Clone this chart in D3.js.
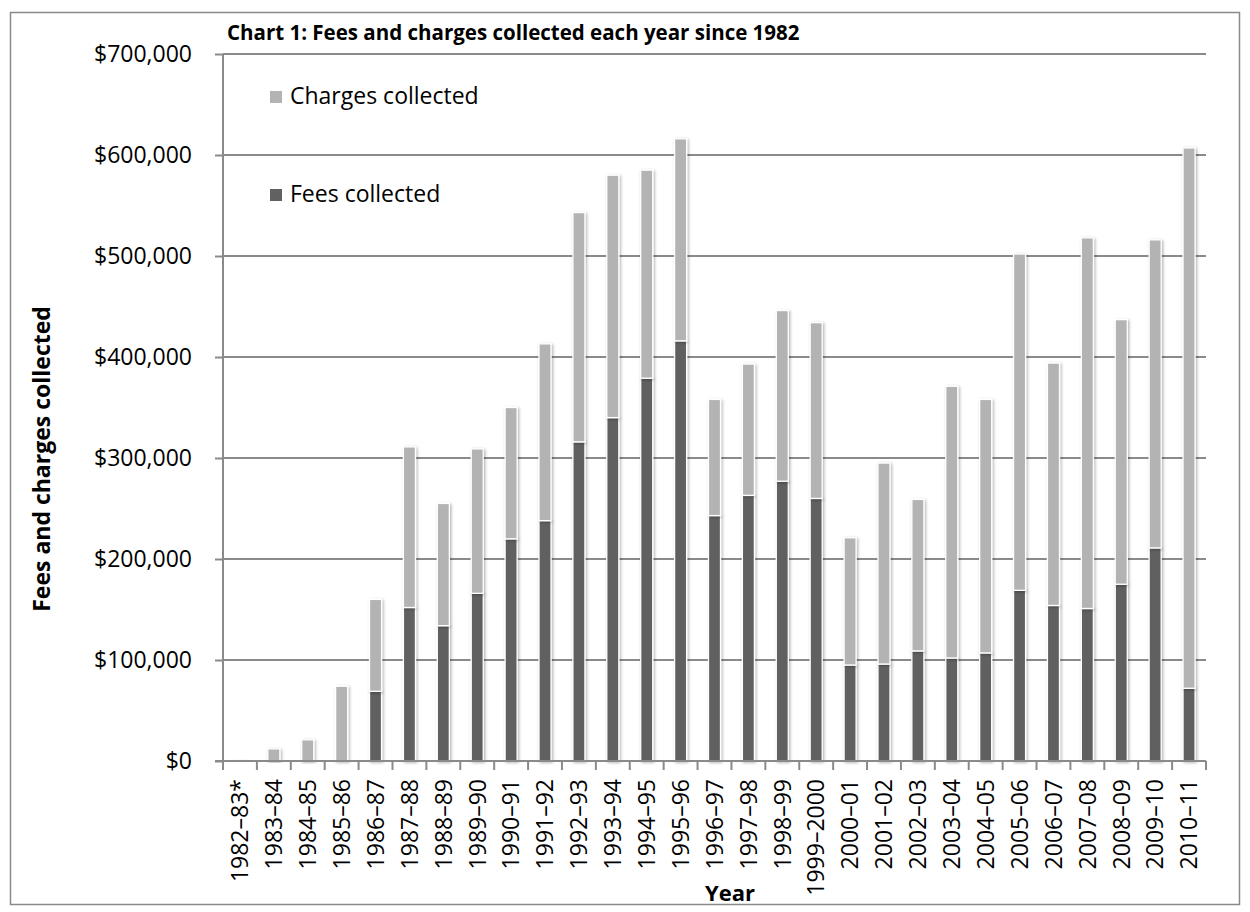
<!DOCTYPE html>
<html>
<head>
<meta charset="utf-8">
<script src="https://cdn.jsdelivr.net/npm/d3@7"></script>
<style>
  html, body { margin: 0; padding: 0; background: #fff; }
  svg { display: block; font-family: "Open Sans", sans-serif; }
</style>
</head>
<body>
<svg id="chart" width="1250" height="912"></svg>
<script>
// Financial years shown along the bottom axis
const categories = [
  "1982–83*", "1983–84", "1984–85", "1985–86", "1986–87", "1987–88", "1988–89",
  "1989–90", "1990–91", "1991–92", "1992–93", "1993–94", "1994–95", "1995–96",
  "1996–97", "1997–98", "1998–99", "1999–2000", "2000–01", "2001–02", "2002–03",
  "2003–04", "2004–05", "2005–06", "2006–07", "2007–08", "2008–09", "2009–10", "2010–11"
];

// Fees collected each year ($)
const fees = [
  0, 0, 0, 0, 69000, 152000, 134000,
  166000, 220000, 238000, 316000, 340000, 379000, 416000,
  243000, 263000, 277000, 260000, 95000, 96000, 109000,
  102000, 107000, 169000, 154000, 151000, 175000, 211000, 72000
];

// Charges collected each year ($), stacked above fees
const charges = [
  1000, 12000, 21000, 74000, 91000, 159000, 121000,
  143000, 130000, 175000, 227000, 240000, 206000, 200000,
  115000, 130000, 169000, 174000, 126000, 199000, 150000,
  269000, 251000, 333000, 240000, 367000, 262000, 305000, 535000
];

// Value axis ticks
const yTicks = [0, 100000, 200000, 300000, 400000, 500000, 600000, 700000];

const seriesKeys = ["fees", "charges"];
const seriesNames = { fees: "Fees collected", charges: "Charges collected" };
const seriesColors = { fees: "#616161", charges: "#b3b3b3" };

const rows = categories.map((c, i) => ({ year: c, fees: fees[i], charges: charges[i] }));

const svg = d3.select("#chart");
const gridColor = "#8a8a8a";

// Outer frame
svg.append("rect")
  .attr("x", 10.5).attr("y", 12.5)
  .attr("width", 1229).attr("height", 892)
  .attr("fill", "none").attr("stroke", "#8a8a8a").attr("stroke-width", 1.5);

const plot = { left: 223, right: 1206, top: 54, bottom: 761 };

const x = d3.scaleBand()
  .domain(categories)
  .range([plot.left, plot.right])
  .paddingInner(0.645)
  .paddingOuter(0.3225);

const y = d3.scaleLinear()
  .domain([0, 700000])
  .range([plot.bottom, plot.top]);

// Soft shadow behind each bar
const defs = svg.append("defs");
const f = defs.append("filter").attr("id", "barShadow")
  .attr("x", "-60%").attr("y", "-10%").attr("width", "220%").attr("height", "120%");
f.append("feDropShadow")
  .attr("dx", 1.2).attr("dy", 1)
  .attr("stdDeviation", 1.6)
  .attr("flood-color", "#000").attr("flood-opacity", 0.32);

// Horizontal gridlines
svg.append("g")
  .selectAll("line")
  .data(yTicks.filter(t => t > 0))
  .join("line")
  .attr("x1", plot.left).attr("x2", plot.right)
  .attr("y1", d => y(d)).attr("y2", d => y(d))
  .attr("stroke", gridColor).attr("stroke-width", 2);

// Value axis
const yAxis = svg.append("g")
  .attr("transform", `translate(${plot.left},0)`)
  .call(d3.axisLeft(y)
    .tickValues(yTicks)
    .tickSize(8)
    .tickPadding(23)
    .tickFormat(d => "$" + d3.format(",")(d)));
yAxis.select(".domain").attr("stroke", gridColor).attr("stroke-width", 2)
  .attr("d", `M0,${plot.top}V${plot.bottom}`);
yAxis.selectAll(".tick line").attr("stroke", gridColor).attr("stroke-width", 2);
yAxis.selectAll(".tick text")
  .attr("font-family", "Open Sans").attr("font-size", 23).attr("fill", "#000");

// Stacked bars
const stacked = d3.stack().keys(seriesKeys)(rows);
svg.append("g")
  .selectAll("g")
  .data(stacked)
  .join("g")
  .attr("fill", s => seriesColors[s.key])
  .selectAll("rect")
  .data(s => s.filter(d => d[1] - d[0] > 0))
  .join("rect")
  .attr("filter", "url(#barShadow)")
  .attr("x", d => x(d.data.year))
  .attr("width", x.bandwidth())
  .attr("y", d => y(d[1]))
  .attr("height", d => y(d[0]) - y(d[1]))
  .attr("stroke", "#fff").attr("stroke-width", 1.3);

// Category axis
const xAxis = svg.append("g")
  .attr("transform", `translate(0,${plot.bottom})`)
  .call(d3.axisBottom(x).tickSize(0).tickPadding(0));
xAxis.select(".domain").remove();
xAxis.append("line")
  .attr("x1", plot.left - 8).attr("x2", plot.right)
  .attr("y1", 0).attr("y2", 0)
  .attr("stroke", gridColor).attr("stroke-width", 2);
// tick marks on the boundaries between categories
const boundaries = d3.range(categories.length + 1).map(i => x.range()[0] + i * x.step());
xAxis.selectAll("line.bound")
  .data(boundaries)
  .join("line")
  .attr("class", "bound")
  .attr("x1", d => d).attr("x2", d => d)
  .attr("y1", 0).attr("y2", 9)
  .attr("stroke", gridColor).attr("stroke-width", 2);
xAxis.selectAll(".tick text")
  .attr("font-family", "Open Sans").attr("font-size", 23).attr("fill", "#000")
  .attr("text-anchor", "end")
  .attr("transform", "rotate(-90)")
  .attr("x", -18)
  .attr("y", 0)
  .attr("dy", "0.36em");

// Axis titles
svg.append("text")
  .attr("x", 730).attr("y", 901)
  .attr("text-anchor", "middle")
  .attr("font-family", "Open Sans").attr("font-weight", "bold").attr("font-size", 22)
  .text("Year");

svg.append("text")
  .attr("transform", "translate(50,459) rotate(-90)")
  .attr("text-anchor", "middle")
  .attr("font-family", "Open Sans").attr("font-weight", "bold").attr("font-size", 23)
  .text("Fees and charges collected");

// Chart title
svg.append("text")
  .attr("x", 227).attr("y", 40)
  .attr("font-family", "Open Sans").attr("font-weight", "bold").attr("font-size", 20.5)
  .text("Chart 1: Fees and charges collected each year since 1982");

// Legend
const legendItems = [
  { key: "charges", y: 104 },
  { key: "fees", y: 202 }
];
const legend = svg.append("g")
  .selectAll("g")
  .data(legendItems)
  .join("g");
legend.append("rect")
  .attr("x", 270).attr("y", d => d.y - 13)
  .attr("width", 12).attr("height", 12)
  .attr("fill", d => seriesColors[d.key]);
legend.append("text")
  .attr("x", 290).attr("y", d => d.y)
  .attr("font-family", "Open Sans").attr("font-size", 23)
  .text(d => seriesNames[d.key]);
</script>
</body>
</html>
